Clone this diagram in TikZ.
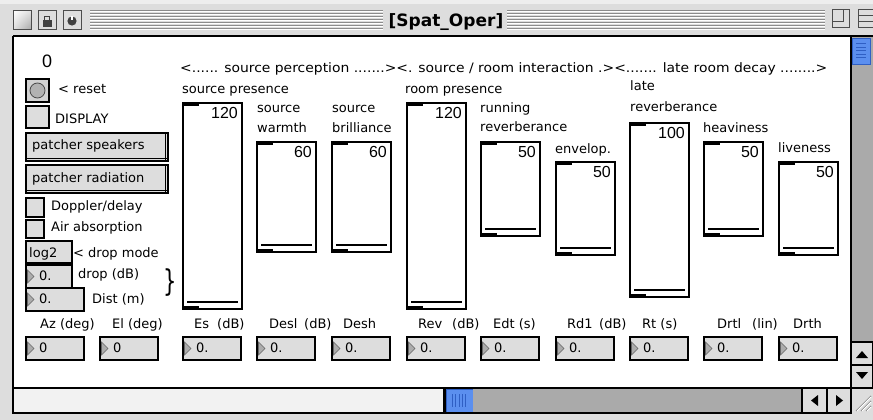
\documentclass[tikz,border=0pt]{standalone}
\usepackage{fontspec}
\usetikzlibrary{shadings}
\setmainfont{DejaVu Sans}
\newfontfamily\valfont{Liberation Sans}
\definecolor{platinum}{HTML}{DDDDDD}
\definecolor{stripe}{HTML}{8C8C8C}
\definecolor{track}{HTML}{AAAAAA}
\definecolor{thumb}{HTML}{5B8FEF}
\definecolor{thumbdark}{HTML}{2F5FC4}
\definecolor{paneback}{HTML}{F2F2F2}
\tikzset{
  lbl/.style={anchor=base west, inner sep=0pt, font=\fontsize{13}{15}\selectfont},
  val/.style={anchor=base east, inner sep=0pt, font=\valfont\fontsize{16}{18}\selectfont},
  frame/.style={draw=black, line width=1.2pt},
  knob/.style={draw=black, line width=1.2pt, fill=platinum},
  levelmark/.style={line width=2pt},
  tri/.style={fill=gray!65, draw=black!60, line width=0.6pt},
  chrome/.style={draw=black!70, line width=1pt, fill=platinum},
}
% vertical slider: name, left, top, bottom, value
\newcommand\vslider[5]{%
  \draw[frame, fill=white] (#2,#3) rectangle (#2+59,#4);
  \draw[levelmark] (#2+1,#3+1.6) -- (#2+16,#3+1.6);
  \draw[levelmark] (#2+4,#4-7) -- (#2+55,#4-7);
  \draw[levelmark] (#2+1,#4-1.6) -- (#2+16,#4-1.6);
  \node[val] (#1) at (#2+55,#3+15) {#5};
}
% number field: name, left, top, width, text
\newcommand\numfield[5]{%
  \draw[knob] (#2,#3) rectangle (#2+#4,#3+23);
  \filldraw[tri] (#2+1.5,#3+5) -- (#2+8,#3+11.5) -- (#2+1.5,#3+18) -- cycle;
  \node[lbl] (#1) at (#2+13,#3+15) {#5};
}
\begin{document}
\begin{tikzpicture}[x=1pt,y=-1pt]
\useasboundingbox (0,0) rectangle (873,420);
% window frame
\fill[platinum] (0,0) rectangle (873,420);
\fill[white!50!platinum] (0,0) rectangle (873,4);
% title bar stripes
\foreach \k in {0,...,6}{
  \draw[stripe, line width=1pt] (90,10.5+3*\k) -- (383,10.5+3*\k);
  \draw[white, line width=1pt] (90,11.5+3*\k) -- (383,11.5+3*\k);
  \draw[stripe, line width=1pt] (507,10.5+3*\k) -- (825,10.5+3*\k);
  \draw[white, line width=1pt] (507,11.5+3*\k) -- (825,11.5+3*\k);
}
\node[font=\bfseries\fontsize{17}{19}\selectfont, anchor=base, inner sep=0pt] (title) at (446,27) {[Spat\_Oper]};
% title bar boxes
\shade[upper left=white, upper right=gray!25, lower left=gray!25, lower right=gray!70] (13,11) rectangle (31,30);
\draw[black!70, line width=1pt] (13,11) rectangle (31,30);
\draw[chrome] (38,11) rectangle (56,30);
\fill[black!75] (42.5,20) rectangle (51.5,27);
\draw[black!75, line width=1.4pt] (44.7,20.5) -- (44.7,16.3) -- (49.3,16.3) -- (49.3,20.5);
\draw[chrome] (63,11) rectangle (81,30);
\fill[black!75] (72,21) circle (4.6);
\fill[white] (71.3,16.2) rectangle (72.7,20.5);
\draw[chrome] (832,10) rectangle (849,28);
\draw[black!70, line width=1pt] (832,10) rectangle (843,22);
\draw[chrome] (858,10) rectangle (876,28);
\draw[black!70, line width=1pt] (858,16) -- (876,16) (858,22) -- (876,22);
% content pane
\fill[white] (13,36) rectangle (851,388);
% vertical scroll bar
\fill[track] (851,37) rectangle (873,342);
\fill[thumb] (852.5,38) rectangle (870,64);
\draw[thumbdark, line width=0.8pt] (852.5,38) rectangle (870,64);
\foreach \k in {0,...,4}{\draw[thumbdark, line width=1pt] (856,44+3.5*\k) -- (866,44+3.5*\k);}
\draw[knob] (851,342) rectangle (873,365);
\draw[knob] (851,365) rectangle (873,388);
\fill[black] (856,358) -- (868,358) -- (862,351) -- cycle;
\fill[black] (856,372) -- (868,372) -- (862,379) -- cycle;
% horizontal scroll bar
\fill[paneback] (13,388) rectangle (443,413);
\fill[black] (443,388) rectangle (446,413);
\fill[thumb] (446,389) rectangle (473,412);
\draw[thumbdark, line width=0.8pt] (446,389) rectangle (473,412);
\foreach \k in {0,...,4}{\draw[thumbdark, line width=1pt] (452.5+3.3*\k,394) -- (452.5+3.3*\k,407);}
\fill[track] (473,389) rectangle (802,412);
\draw[knob] (802,388) rectangle (827,413);
\draw[knob] (827,388) rectangle (851,413);
\fill[black] (818,395) -- (818,406) -- (811,400.5) -- cycle;
\fill[black] (836,395) -- (836,406) -- (843,400.5) -- cycle;
% grow box
\foreach \d in {0,5,10}{
  \draw[gray, line width=1pt] (856+\d,411) -- (871,396+\d);
  \draw[white, line width=1pt] (857+\d,411) -- (871,397+\d);
}
% pane borders
\draw[black, line width=1.5pt] (13,36) -- (873,36);
\draw[black, line width=1.5pt] (13,36) -- (13,413) -- (851,413);
\draw[black, line width=1.5pt] (851,36) -- (851,413);
\draw[black, line width=1.5pt] (13,388) -- (873,388);

% left column controls
\node[anchor=base west, inner sep=0pt, font=\valfont\fontsize{18}{20}\selectfont] (zero) at (42,68) {0};
\draw[knob, fill=gray!35] (26,79) rectangle (49,102);
\filldraw[fill=gray!60, draw=gray!60!black, line width=0.8pt] (37.5,90.5) circle (7.5);
\node[lbl] (reset) at (58,93) {< reset};
\draw[knob] (26,106) rectangle (49,128);
\node[lbl] (display) at (55,123) {DISPLAY};
\draw[knob] (26,133) rectangle (168,161);
\draw[black, line width=1pt] (27,158) -- (167,158) (165.5,134) -- (165.5,160);
\node[lbl] (spk) at (32,149) {patcher speakers};
\draw[knob] (26,165) rectangle (168,193);
\draw[black, line width=1pt] (27,190) -- (167,190) (165.5,166) -- (165.5,192);
\node[lbl] (rad) at (32,182) {patcher radiation};
\draw[knob] (26,198) rectangle (44,217);
\node[lbl] (doppler) at (51,210) {Doppler/delay};
\draw[knob] (26,220) rectangle (44,238);
\node[lbl] (air) at (51,231) {Air absorption};
\draw[knob] (26,241) rectangle (72,263);
\node[lbl] (logtwo) at (29,257) {log2};
\node[lbl] (dropmode) at (73,257) {< drop mode};
\numfield{dropval}{26}{265}{46}{0.}
\node[lbl] (droplbl) at (78,278) {drop (dB)};
\numfield{distval}{26}{288}{58}{0.}
\node[lbl] (distlbl) at (92,303) {Dist (m)};
\node[inner sep=0pt, font=\fontsize{30}{30}\selectfont] (brace) at (170,283) {\scalebox{0.7}[1]{\}}};

% section header
\node[lbl] (header) at (180,73) {\scalebox{1.07}[1]{<...... source perception .......><. source / room interaction .><....... late room decay ........>}};

% slider captions
\node[lbl] (cap1) at (182,93) {source presence};
\node[lbl] (cap2a) at (257,113) {source};
\node[lbl] (cap2b) at (257,132) {warmth};
\node[lbl] (cap3a) at (332,113) {source};
\node[lbl] (cap3b) at (332,132) {brilliance};
\node[lbl] (cap4) at (405,93) {room presence};
\node[lbl] (cap5a) at (480,112) {running};
\node[lbl] (cap5b) at (480,131) {reverberance};
\node[lbl] (cap6) at (555,153) {envelop.};
\node[lbl] (cap7a) at (630,91) {late};
\node[lbl] (cap7b) at (630,111) {reverberance};
\node[lbl] (cap8) at (703,132) {heaviness};
\node[lbl] (cap9) at (778,152) {liveness};

% sliders
\vslider{es}{183}{103}{309}{120}
\vslider{warm}{257}{142}{252}{60}
\vslider{brill}{332}{142}{252}{60}
\vslider{rev}{407}{103}{309}{120}
\vslider{run}{481}{142}{236}{50}
\vslider{env}{556}{162}{255}{50}
\vslider{late}{630}{123}{297}{100}
\vslider{heavy}{704}{142}{236}{50}
\vslider{live}{779}{162}{255}{50}

% parameter labels
\node[lbl] (laz) at (40,328) {Az (deg)};
\node[lbl] (lel) at (112,328) {El (deg)};
\node[lbl] (les) at (194,328) {Es};
\node[lbl] (lesu) at (217,328) {(dB)};
\node[lbl] (ldesl) at (269,328) {Desl};
\node[lbl] (ldeslu) at (304,328) {(dB)};
\node[lbl] (ldesh) at (343,328) {Desh};
\node[lbl] (lrev) at (418,328) {Rev};
\node[lbl] (lrevu) at (452,328) {(dB)};
\node[lbl] (ledt) at (493,328) {Edt (s)};
\node[lbl] (lrd) at (567,328) {Rd1};
\node[lbl] (lrdu) at (599,328) {(dB)};
\node[lbl] (lrt) at (642,328) {Rt (s)};
\node[lbl] (ldrtl) at (717,328) {Drtl};
\node[lbl] (lin) at (752,328) {(lin)};
\node[lbl] (ldrth) at (793,328) {Drth};

% parameter number fields
\numfield{naz}{26}{337}{58}{0}
\numfield{nel}{100}{337}{58}{0}
\numfield{nes}{183}{337}{58}{0.}
\numfield{ndesl}{257}{337}{58}{0.}
\numfield{ndesh}{332}{337}{58}{0.}
\numfield{nrev}{407}{337}{58}{0.}
\numfield{nedt}{481}{337}{58}{0.}
\numfield{nrd}{556}{337}{58}{0.}
\numfield{nrt}{630}{337}{58}{0.}
\numfield{ndrtl}{704}{337}{58}{0.}
\numfield{ndrth}{779}{337}{58}{0.}
\end{tikzpicture}
\end{document}
